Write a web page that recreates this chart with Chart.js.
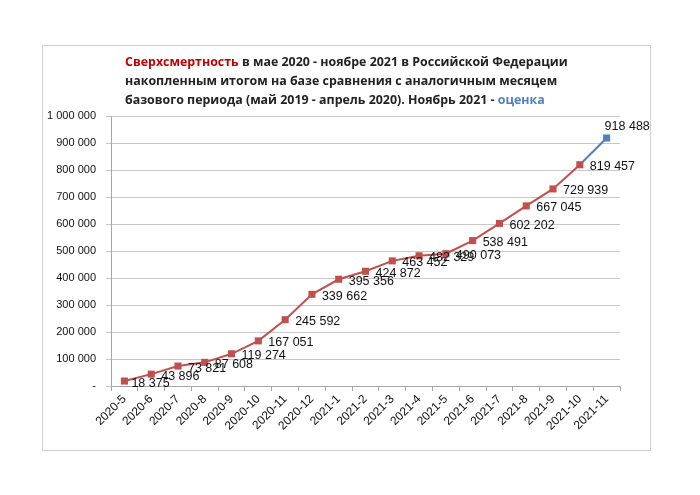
<!DOCTYPE html>
<html>
<head>
<meta charset="utf-8">
<script src="https://cdn.jsdelivr.net/npm/chart.js@4/dist/chart.umd.min.js"></script>
<style>
html,body{margin:0;padding:0;background:#fff;}
#wrap{width:700px;height:495px;}
</style>
</head>
<body>
<div id="wrap"><canvas id="c" width="700" height="495"></canvas></div>
<script>
const categories = ["2020-5","2020-6","2020-7","2020-8","2020-9","2020-10","2020-11","2020-12","2021-1","2021-2","2021-3","2021-4","2021-5","2021-6","2021-7","2021-8","2021-9","2021-10","2021-11"];
const excessDeaths = [18375,43896,73821,87608,119274,167051,245592,339662,395356,424872,463452,482329,490073,538491,602202,667045,729939,819457,918488];
const estimateIndex = 18;
const yTicks = [0,100000,200000,300000,400000,500000,600000,700000,800000,900000,1000000];
const titleParts = [
  [["Сверхсмертность","#C00000"],[" в мае 2020 - ноябре 2021 в Российской Федерации","#222"]],
  [["накопленным итогом на базе сравнения с аналогичным месяцем","#222"]],
  [["базового периода (май 2019 - апрель 2020). Ноябрь 2021 - ","#222"],["оценка","#4F81BD"]]
];

const RED = "#C0504D", BLUE = "#4F81BD";
function fmt(v){ if(v===0) return "-"; return String(v).replace(/\B(?=(\d{3})+(?!\d))/g," "); }

const framePlugin = {
  id:"frame",
  beforeDraw(chart){
    const ctx = chart.ctx;
    ctx.save();
    ctx.fillStyle="#fff"; ctx.fillRect(0,0,700,495);
    ctx.strokeStyle="#d0d0d0"; ctx.lineWidth=1;
    ctx.strokeRect(42.5,45.5,608,405);
    ctx.restore();
  },
  afterDraw(chart){
    const ctx = chart.ctx;
    ctx.save();
    const fam = '"Open Sans", "Liberation Sans", sans-serif';
    let size = 14;
    ctx.font = "bold "+size+"px "+fam;
    const line1 = titleParts[0].map(p=>p[0]).join("");
    const w = ctx.measureText(line1).width;
    size = size*443/w;
    ctx.font = "bold "+size.toFixed(2)+"px "+fam;
    ctx.textBaseline="middle"; ctx.textAlign="left";
    const ys=[62,81,100];
    titleParts.forEach((parts,i)=>{
      let x=125;
      parts.forEach(p=>{ ctx.fillStyle=p[1]; ctx.fillText(p[0],x,ys[i]); x+=ctx.measureText(p[0]).width; });
    });
    const meta = chart.getDatasetMeta(0);
    ctx.font = '12.5px "Liberation Sans", Arial, sans-serif';
    ctx.fillStyle="#111";
    meta.data.forEach((pt,i)=>{
      const t = fmt(excessDeaths[i]);
      if(i===estimateIndex){ ctx.fillText(t, pt.x-2, pt.y-11); }
      else if(i===0){ ctx.fillText(t, pt.x+7, pt.y+3); }
      else { ctx.fillText(t, pt.x+10, pt.y+2); }
    });
    ctx.restore();
  }
};

new Chart(document.getElementById("c"),{
  type:"line",
  data:{
    labels:categories,
    datasets:[{
      data:excessDeaths,
      borderColor:RED,
      borderWidth:2,
      pointStyle:"rect",
      pointRadius:5,
      pointBorderWidth:0,
      pointBackgroundColor:excessDeaths.map((v,i)=>i===estimateIndex?BLUE:RED),
      pointBorderColor:excessDeaths.map((v,i)=>i===estimateIndex?BLUE:RED),
      segment:{borderColor:c=>c.p1DataIndex===estimateIndex?BLUE:RED},
      tension:0,
      fill:false
    }]
  },
  options:{
    responsive:false,
    animation:false,
    devicePixelRatio:1,
    layout:{padding:{left:0,top:116,right:80,bottom:0}},
    plugins:{legend:{display:false},title:{display:false},tooltip:{enabled:false}},
    scales:{
      x:{
        offset:true,
        grid:{offset:true,drawOnChartArea:false,drawTicks:true,tickLength:5,color:"#a6a6a6"},
        border:{display:true,color:"#a6a6a6"},
        ticks:{autoSkip:false,maxRotation:45,minRotation:45,color:"#111",font:{family:'"Liberation Sans", Arial, sans-serif',size:12},padding:1},
        afterFit(s){ s.height = 495-386; }
      },
      y:{
        min:0,max:1000000,
        afterBuildTicks(s){ s.ticks = yTicks.map(v=>({value:v})); },
        grid:{color:"#c8c8c8",tickLength:5,lineWidth:1},
        border:{display:true,color:"#a6a6a6"},
        ticks:{callback:v=>fmt(v),color:"#111",font:{family:'"Liberation Sans", Arial, sans-serif',size:11},padding:10},
        afterFit(s){ s.width = 111; }
      }
    }
  },
  plugins:[framePlugin]
});
</script>
</body>
</html>
